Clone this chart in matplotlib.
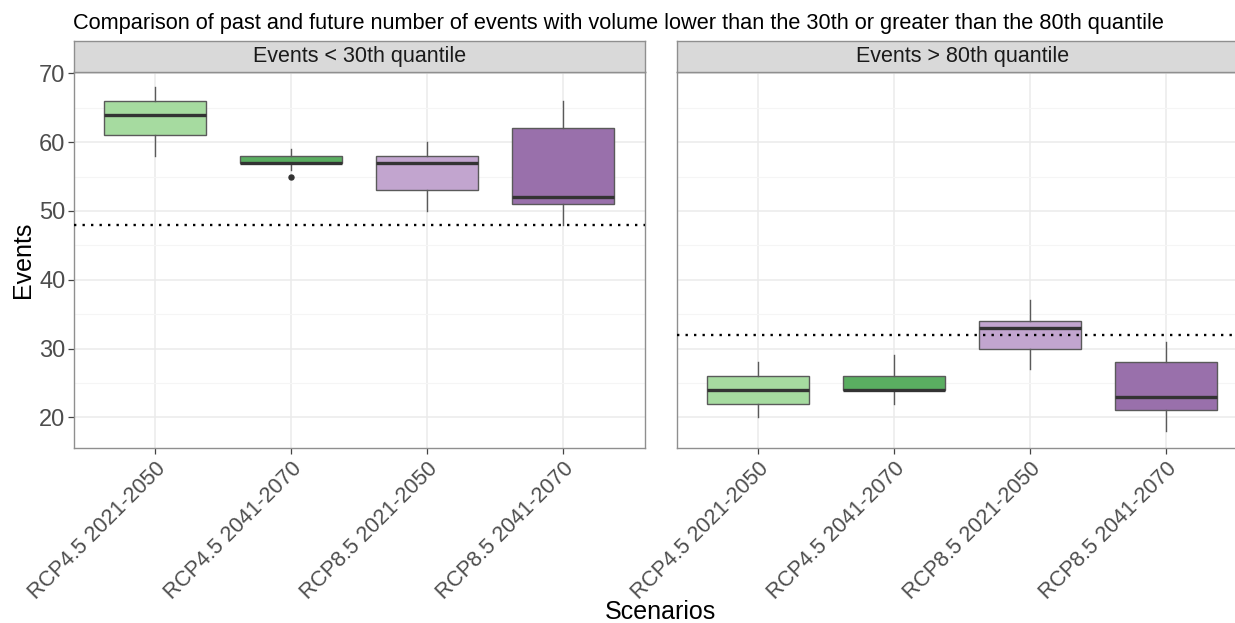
import matplotlib
matplotlib.use("Agg")
import matplotlib.pyplot as plt

plt.rcParams['font.family'] = ['Liberation Sans', 'DejaVu Sans']

# ---------------- data ----------------
scenarios = ["RCP4.5 2021-2050", "RCP4.5 2041-2070", "RCP8.5 2021-2050", "RCP8.5 2041-2070"]
facets = ["Events < 30th quantile", "Events > 80th quantile"]
colors = ["#a6dba0", "#5aae61", "#c2a5cf", "#9970ab"]

low_whislo = [58, 56, 50, 48]
low_q1 = [61, 57, 53, 51]
low_med = [64, 57, 57, 52]
low_q3 = [66, 58, 58, 62]
low_whishi = [68, 59, 60, 66]
low_fliers = [[], [55], [], []]

high_whislo = [20, 22, 27, 18]
high_q1 = [22, 24, 30, 21]
high_med = [24, 24, 33, 23]
high_q3 = [26, 26, 34, 28]
high_whishi = [28, 29, 37, 31]
high_fliers = [[], [], [], []]

thresholds = [48, 32]
yticks = [20, 30, 40, 50, 60, 70]
yminor = [25, 35, 45, 55, 65]

title = "Comparison of past and future number of events with volume lower than the 30th or greater than the 80th quantile"

# ---------------- layout ----------------
W, H = 1235, 623
fig = plt.figure(figsize=(W / 100, H / 100), dpi=100)


def rect(x0, y0, x1, y1):
    return [x0 / W, 1 - y1 / H, (x1 - x0) / W, (y1 - y0) / H]


panels = [(73.6, 644.8), (676.5, 1247.7)]
ptop, pbot = 72, 448.3
stop = 41

data = [
    (low_whislo, low_q1, low_med, low_q3, low_whishi, low_fliers),
    (high_whislo, high_q1, high_med, high_q3, high_whishi, high_fliers),
]

grid_major = "#ebebeb"
grid_minor = "#f5f5f5"
border = "#8f8f8f"

for i, ((x0, x1), d, thr, facet) in enumerate(zip(panels, data, thresholds, facets)):
    ax = fig.add_axes(rect(x0, ptop, x1, pbot))
    wl, q1, md, q3, wh, fl = d
    stats = []
    for j in range(len(scenarios)):
        stats.append(dict(med=md[j], q1=q1[j], q3=q3[j], whislo=wl[j], whishi=wh[j],
                          fliers=fl[j], label=scenarios[j]))
    positions = list(range(1, len(scenarios) + 1))
    bp = ax.bxp(stats, positions=positions, widths=0.75, patch_artist=True,
                showcaps=False, showfliers=True,
                boxprops=dict(edgecolor="#5a5a5a", linewidth=1.0),
                whiskerprops=dict(color="#5a5a5a", linewidth=1.0),
                medianprops=dict(color="#333333", linewidth=2.4),
                flierprops=dict(marker="o", markerfacecolor="#333333",
                                markeredgecolor="#333333", markersize=3.6))
    for patch, c in zip(bp["boxes"], colors):
        patch.set_facecolor(c)
    for k in ("boxes", "whiskers", "medians", "fliers"):
        for a in bp[k]:
            a.set_zorder(3)

    ax.axhline(thr, color="black", linestyle=(0, (1, 2.6)), linewidth=1.7, zorder=4)

    ax.set_xlim(0.4, 4.6)
    ax.set_ylim(15.5, 70.19)
    ax.set_yticks(yticks)
    ax.set_yticks(yminor, minor=True)
    ax.set_xticks(positions)
    ax.set_xticklabels(scenarios, rotation=45, ha="right", va="top",
                       rotation_mode="anchor", fontsize=15.5, color="#4d4d4d")
    ax.grid(True, which="major", color=grid_major, linewidth=1.1, zorder=0)
    ax.grid(True, which="minor", axis="y", color=grid_minor, linewidth=0.8, zorder=0)
    ax.set_axisbelow(True)
    ax.tick_params(axis="x", length=4, width=0.9, color="#444444", pad=3)
    ax.tick_params(axis="y", which="minor", length=0)
    if i == 0:
        ax.tick_params(axis="y", which="major", length=4, width=0.9, color="#444444",
                       labelsize=17, labelcolor="#4d4d4d", pad=2)
        ax.set_ylabel("Events", fontsize=18, color="black", labelpad=3)
    else:
        ax.tick_params(axis="y", which="major", length=0, labelleft=False)
    for s in ax.spines.values():
        s.set_color(border)
        s.set_linewidth(1.0)

    sax = fig.add_axes(rect(x0, stop, x1, ptop))
    sax.set_xlim(0, 1)
    sax.set_ylim(0, 1)
    sax.set_xticks([])
    sax.set_yticks([])
    sax.set_facecolor("#d9d9d9")
    for s in sax.spines.values():
        s.set_color(border)
        s.set_linewidth(1.0)
    sax.text(0.5, 0.5, facet, ha="center", va="center", fontsize=15.5, color="#1a1a1a")

fig.text(73 / W, 1 - 23 / H, title, ha="left", va="center", fontsize=15.7, color="black")
fig.text(660 / W, 1 - 612 / H, "Scenarios", ha="center", va="center", fontsize=18, color="black")

fig.savefig("out.png", dpi=100)
